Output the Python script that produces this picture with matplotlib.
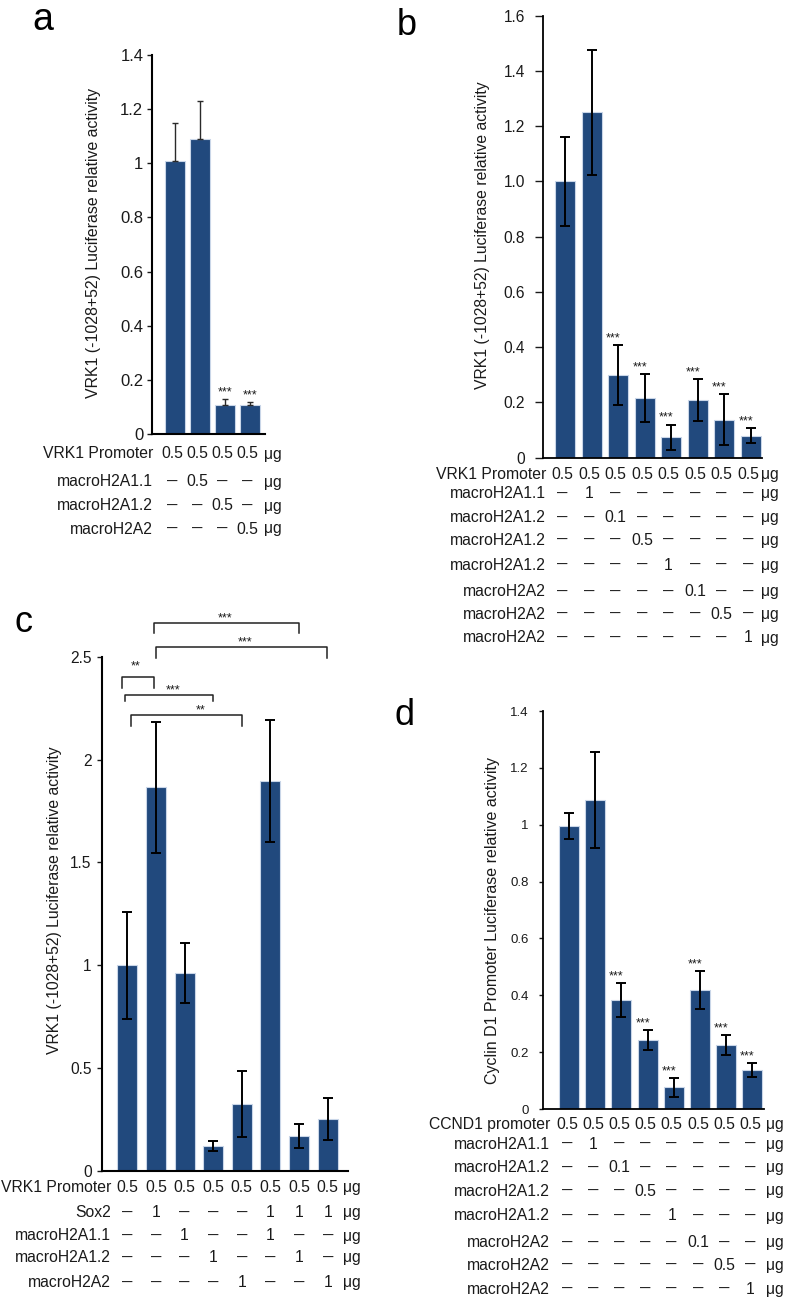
import matplotlib
matplotlib.use("Agg")
import matplotlib.pyplot as plt
from matplotlib.transforms import blended_transform_factory
from matplotlib.ticker import FuncFormatter
import numpy as np

plt.rcParams['font.family'] = ['Liberation Sans', 'DejaVu Sans']

W, H = 787, 1299
fig = plt.figure(figsize=(W / 100, H / 100), dpi=100)

BAR = '#21497d'
EDGE = '#c9d6e8'
TXT = '#1a1a1a'
D = '\u2014'

# ---------------- data ----------------
# panel a
a_values = [1.01, 1.09, 0.107, 0.107]
a_err = [0.14, 0.14, 0.022, 0.012]
a_sig = ['', '', '***', '***']
a_row_labels = ['VRK1 Promoter', 'macroH2A1.1', 'macroH2A1.2', 'macroH2A2']
a_rows = [['0.5', '0.5', '0.5', '0.5'],
          [D, '0.5', D, D],
          [D, D, '0.5', D],
          [D, D, D, '0.5']]
a_yticks = [0, 0.2, 0.4, 0.6, 0.8, 1.0, 1.2, 1.4]

# panel b
b_values = [1.0, 1.25, 0.30, 0.215, 0.074, 0.209, 0.137, 0.08]
b_err = [0.16, 0.225, 0.108, 0.087, 0.046, 0.076, 0.092, 0.027]
b_sig = ['', '', '***', '***', '***', '***', '***', '***']
b_row_labels = ['VRK1 Promoter', 'macroH2A1.1', 'macroH2A1.2', 'macroH2A1.2',
                'macroH2A1.2', 'macroH2A2', 'macroH2A2', 'macroH2A2']
b_rows = [['0.5'] * 8,
          [D, '1', D, D, D, D, D, D],
          [D, D, '0.1', D, D, D, D, D],
          [D, D, D, '0.5', D, D, D, D],
          [D, D, D, D, '1', D, D, D],
          [D, D, D, D, D, '0.1', D, D],
          [D, D, D, D, D, D, '0.5', D],
          [D, D, D, D, D, D, D, '1']]
b_yticks = [0, 0.2, 0.4, 0.6, 0.8, 1.0, 1.2, 1.4, 1.6]

# panel c
c_values = [1.0, 1.865, 0.962, 0.123, 0.326, 1.896, 0.170, 0.253]
c_err = [0.26, 0.32, 0.145, 0.024, 0.16, 0.297, 0.057, 0.10]
c_row_labels = ['VRK1 Promoter', 'Sox2', 'macroH2A1.1', 'macroH2A1.2', 'macroH2A2']
c_rows = [['0.5'] * 8,
          [D, '1', D, D, D, '1', '1', '1'],
          [D, D, '1', D, D, '1', D, D],
          [D, D, D, '1', D, D, '1', D],
          [D, D, D, D, '1', D, D, '1']]
c_yticks = [0, 0.5, 1.0, 1.5, 2.0, 2.5]
# brackets: (x_start, x_end, y_line, y_leg_end, label, label_x, label_baseline)
c_brackets = [(0.93, 6.0, 2.666, 2.614, '***', 3.41, 2.672),
              (1.0, 6.99, 2.546, 2.493, '***', 4.1, 2.556),
              (-0.2, 0.93, 2.400, 2.347, '**', 0.3, 2.44),
              (-0.08, 3.0, 2.314, 2.285, '***', 1.6, 2.322),
              (0.13, 4.02, 2.217, 2.165, '**', 2.57, 2.226)]

# panel d
d_values = [0.995, 1.087, 0.383, 0.243, 0.076, 0.419, 0.225, 0.137]
d_err = [0.047, 0.17, 0.06, 0.035, 0.034, 0.067, 0.035, 0.026]
d_sig = ['', '', '***', '***', '***', '***', '***', '***']
d_row_labels = ['CCND1 promoter', 'macroH2A1.1', 'macroH2A1.2', 'macroH2A1.2',
                'macroH2A1.2', 'macroH2A2', 'macroH2A2', 'macroH2A2']
d_rows = b_rows
d_yticks = [0, 0.2, 0.4, 0.6, 0.8, 1.0, 1.2, 1.4]

ylabel_vrk1 = 'VRK1 (-1028+52) Luciferase relative activity'
ylabel_ccnd1 = 'Cyclin D1 Promoter Luciferase relative activity'


# ---------------- helpers ----------------
def make_axes(x0, y0, x1, y1):
    return fig.add_axes([x0 / W, 1 - y1 / H, (x1 - x0) / W, (y1 - y0) / H])


def style(ax, ylim, xlim, yticks, fmt, fs, tlen, pad, lw):
    ax.set_ylim(*ylim)
    ax.set_xlim(*xlim)
    for s in ['top', 'right']:
        ax.spines[s].set_visible(False)
    for s in ['left', 'bottom']:
        ax.spines[s].set_linewidth(lw)
        ax.spines[s].set_color('black')
    ax.set_yticks(yticks)
    ax.yaxis.set_major_formatter(FuncFormatter(fmt))
    ax.tick_params(axis='y', direction='out', length=tlen, width=1.0, pad=pad,
                   labelsize=fs, colors=TXT)
    ax.set_xticks([])
    ax.patch.set_alpha(0)


def fmt_g(v, p):
    return '%g' % round(v, 2)


def fmt_1(v, p):
    return '0' if abs(v) < 1e-9 else '%.1f' % v


def draw_table(ax, labels, rows, ycenters, label_right_px, unit_x, xoff, fs=11.3):
    trans = blended_transform_factory(ax.transData, fig.transFigure)
    for lab, vals, yc in zip(labels, rows, ycenters):
        yb = 1 - (yc + 5.5) / H
        yd = 1 - (yc + 3.8) / H
        fig.text(label_right_px / W, yb, lab, ha='right', va='baseline',
                 fontsize=fs, color=TXT)
        for i, v in enumerate(vals):
            if v == D:
                ax.text(i + xoff, yd, v, transform=trans, ha='center', va='baseline',
                        fontsize=fs * 0.66, fontweight='bold', color=TXT, clip_on=False)
            else:
                ax.text(i + xoff, yb, v, transform=trans, ha='center', va='baseline',
                        fontsize=fs, color=TXT, clip_on=False)
        ax.text(unit_x, yb, '\u03bcg', transform=trans, ha='center', va='baseline',
                fontsize=fs, color=TXT, clip_on=False)


def draw_bars(ax, values, err, width, sig=None, sig_dx=0.0, one_sided=False):
    x = np.arange(len(values))
    ax.bar(x, values, width=width, color=BAR, edgecolor=EDGE, linewidth=0.8, zorder=2)
    if one_sided:
        ax.errorbar(x, values, yerr=[np.zeros(len(err)), err], fmt='none',
                    ecolor='#2a2a2a', elinewidth=1.0, capsize=2.2, capthick=1.0, zorder=3)
    else:
        ax.errorbar(x, values, yerr=err, fmt='none', ecolor='black',
                    elinewidth=1.4, capsize=3.6, capthick=1.4, zorder=3)
    if sig is not None:
        for xi, v, e, s in zip(x, values, err, sig):
            if s:
                ax.annotate(s, (xi, v + e), xytext=(sig_dx, 0.5), textcoords='offset points',
                            ha='center', va='bottom', fontsize=9, color=TXT,
                            annotation_clip=False)


# ---------------- panel a ----------------
axa = make_axes(152, 55, 265, 434)
draw_bars(axa, a_values, a_err, 0.78, a_sig, 0.5, one_sided=True)
style(axa, (0, 1.4), (-0.91, 3.61), a_yticks, fmt_g, 12, 3.6, 2.7, 1.5)
fig.text(93.7 / W, 1 - 242.5 / H, ylabel_vrk1, rotation=90, ha='center', va='center',
         fontsize=11.4, color=TXT)
draw_table(axa, a_row_labels, a_rows, [453, 481, 505, 528], 153, 3.93, -0.1)
fig.text(32 / W, 1 - 30 / H, 'a', fontsize=27, ha='left', va='baseline', color='black')

# ---------------- panel b ----------------
axb = make_axes(543.3, 15.7, 761.7, 457.7)
draw_bars(axb, b_values, b_err, 0.755, b_sig, -3.6)
style(axb, (0, 1.6), (-0.82, 7.42), b_yticks, fmt_1, 11.2, 5.8, 7.2, 1.3)
fig.text(483 / W, 1 - 235 / H, ylabel_vrk1, rotation=90, ha='center', va='center',
         fontsize=11.3, color=TXT)
draw_table(axb, b_row_labels, b_rows,
           [473.3, 492.7, 516.7, 539.3, 564.3, 590.7, 613.3, 637], 546, 7.74, -0.1)
fig.text(397 / W, 1 - 35 / H, 'b', fontsize=26, ha='left', va='baseline', color='black')

# ---------------- panel c ----------------
axc = make_axes(101.7, 656.7, 348.3, 1171)
draw_bars(axc, c_values, c_err, 0.70)
style(axc, (0, 2.5), (-0.894, 7.72), c_yticks, fmt_g, 11.2, 3.6, 3.6, 1.5)
for x1, x2, yl, yleg, lab, lx, ly in c_brackets:
    axc.plot([x1, x1, x2, x2], [yleg, yl, yl, yleg], color='#222222', lw=1.1,
             clip_on=False, solid_joinstyle='round')
    axc.text(lx, ly, lab, ha='center', va='baseline', fontsize=9, color=TXT, clip_on=False)
fig.text(55 / W, 1 - 900 / H, ylabel_vrk1, rotation=90, ha='center', va='center',
         fontsize=11.3, color=TXT)
draw_table(axc, c_row_labels, c_rows, [1186.7, 1211.7, 1235, 1256.7, 1281.7], 111, 7.85, 0.0)
fig.text(14 / W, 1 - 632 / H, 'c', fontsize=26, ha='left', va='baseline', color='black')

# ---------------- panel d ----------------
axd = make_axes(542.7, 711, 764.3, 1109)
draw_bars(axd, d_values, d_err, 0.76, d_sig, -3.6)
style(axd, (0, 1.4), (-1.004, 7.457), d_yticks, fmt_g, 9.5, 3.1, 7.2, 1.3)
fig.text(493 / W, 1 - 920 / H, ylabel_ccnd1, rotation=90, ha='center', va='center',
         fontsize=11.5, color=TXT)
draw_table(axd, d_row_labels, d_rows,
           [1123.3, 1143.3, 1166.7, 1190, 1215, 1241.7, 1264.3, 1288.3], 550, 7.87, -0.08)
fig.text(395 / W, 1 - 725 / H, 'd', fontsize=26, ha='left', va='baseline', color='black')

fig.savefig('out.png', dpi=100, facecolor='white')
